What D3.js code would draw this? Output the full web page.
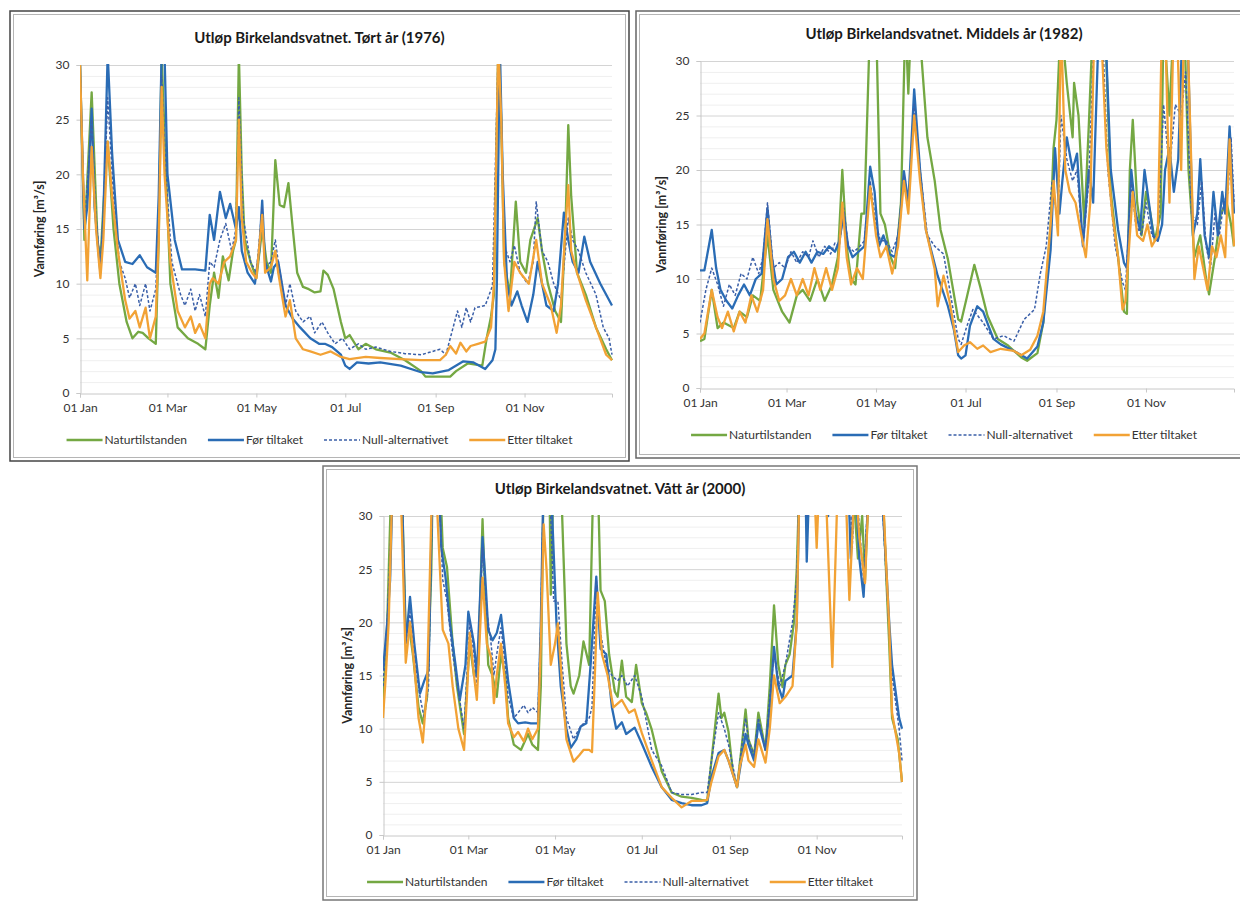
<!DOCTYPE html>
<html><head><meta charset="utf-8">
<script src="https://cdn.jsdelivr.net/npm/d3@7"></script>
<style>
body{margin:0;background:#fff}
text{font-family:Lato,"Open Sans",sans-serif}
</style>
</head><body>
<svg id="c" width="1240" height="902"></svg>
<script>
// ---------------- data ----------------
const titles = ["Utløp Birkelandsvatnet. Tørt år (1976)", "Utløp Birkelandsvatnet. Middels år (1982)", "Utløp Birkelandsvatnet. Vått år (2000)"];
const years = [1976, 1982, 2000];
const seriesNames = ["Naturtilstanden", "Før tiltaket", "Null-alternativet", "Etter tiltaket"];
const xTickLabels = ["01 Jan", "01 Mar", "01 May", "01 Jul", "01 Sep", "01 Nov"];
const yTicks = [0, 5, 10, 15, 20, 25, 30];
const yLabel = "Vannføring [m³/s]";

// [day of year, m3/s]
const p1Natur = [[0,30],[3,14],[8,27.5],[12,14],[14,12],[16,17],[19,23],[23,15],[27,10],[32,6.5],[36,5],[40,5.6],[43,5.5],[47,5],[52,4.5],[54,14],[56,31],[59,20],[62,10],[67,6],[74,5],[81,4.5],[86,4],[89,8],[92,11],[95,8.7],[98,12.5],[102,10.3],[105,13],[107,14],[109,31],[111,20],[113,14],[117,12],[121,10.5],[125,15],[128,12],[131,11],[134,21.3],[137,17.2],[140,17],[143,19.2],[146,15],[149,11],[153,9.7],[157,9.5],[161,9.2],[165,9.3],[167,11.2],[170,10.8],[174,9.5],[179,6.5],[182,5],[185,5.3],[191,4],[196,4.5],[203,4],[213,3.7],[223,3],[234,2],[237,1.5],[254,1.5],[258,2],[266,2.7],[276,2.5],[279,5],[282,7],[284,9],[287,32],[289,25],[291,12],[295,9],[299,17.5],[302,12],[306,11],[309,14],[314,16],[317,13],[321,10],[326,7.5],[330,6.5],[333,15],[335,24.5],[337,18],[341,11],[347,9],[354,6],[361,4],[365,3]];
const p1For = [[0,30],[3,15],[5,17],[8,26],[10,17],[14,11],[16,16],[19,31],[22,22],[26,14],[31,12],[36,11.8],[41,12.6],[46,11.5],[52,11],[54,18],[56,31],[58,31],[60,20],[65,14],[70,11.3],[79,11.3],[86,11.2],[89,16.3],[92,14],[96,18.4],[100,16],[103,17.3],[107,15],[109,17],[111,13],[115,11],[120,10],[123,13],[125,17.6],[127,12],[131,10.2],[133,11.5],[136,12],[141,8],[146,6.8],[151,6],[158,5],[164,4.5],[168,4.5],[173,4.2],[179,3.5],[182,2.5],[185,2.2],[190,2.8],[198,2.7],[206,2.8],[220,2.5],[234,1.9],[242,1.8],[253,2.1],[263,2.9],[270,2.8],[278,2.2],[283,3],[285,4],[286,10],[288,32],[290,20],[293,10],[296,8],[300,9.3],[303,8],[307,6.5],[311,9],[314,12],[317,10],[320,8],[325,7.5],[328,10],[332,16.5],[335,14],[338,12],[342,11],[346,14.3],[350,12],[357,10],[365,8]];
const p1Null = [[0,30],[3,15],[8,25],[11,16],[14,11.5],[16,16],[19,27],[23,18],[27,12],[31,10.5],[34,8.7],[38,10],[41,8],[45,10],[48,7.5],[52,9.5],[54,16],[56,29],[59,20],[63,12],[69,9],[72,8],[76,9.5],[79,7.5],[82,9],[86,7],[89,12],[92,11.5],[96,14],[100,15.5],[104,13],[107,15],[109,27],[112,16],[117,12],[121,11],[125,17],[127,11.5],[131,12],[134,14],[136,12],[141,8],[144,10],[148,7.5],[153,6.5],[158,7],[161,5.5],[166,6.5],[170,5.5],[175,4.5],[180,5],[185,4],[191,4.5],[196,4],[203,4.2],[213,3.8],[223,3.6],[234,3.5],[247,4],[251,3.5],[256,6],[259,7.5],[262,6],[265,7.8],[268,6.5],[271,7.8],[278,8],[283,9.8],[287,32],[289,25],[291,13.5],[295,12],[298,13.5],[302,11],[307,10],[311,12],[313,17.5],[317,13],[321,12],[325,10],[330,8.5],[333,13],[335,16],[338,14],[342,13],[347,11],[354,9],[359,6],[363,5],[365,3.5]];
const p1Etter = [[0,30],[2,20],[5,10.3],[8,22.5],[11,15],[14,10.5],[16,14],[19,23],[22,18],[26,13],[31,8.5],[34,6.8],[38,7.5],[41,6],[45,7.8],[48,5],[52,7],[54,14],[56,28],[58,20],[62,12],[67,7.5],[72,6],[76,7],[79,5.5],[82,6.3],[86,5],[89,10],[91,10.5],[95,10],[99,12],[103,12.5],[107,14],[109,25],[111,16],[114,12],[118,11],[121,10.5],[125,16.3],[127,11],[131,11.5],[134,13],[136,11],[141,7],[144,8.5],[148,5],[153,4],[158,3.8],[165,3.5],[172,3.8],[179,3.3],[185,3.1],[196,3.3],[206,3.2],[220,3.1],[234,3],[247,3],[251,3.5],[254,4.3],[258,3.6],[261,4.6],[265,3.8],[268,4.3],[273,4.5],[278,4.7],[282,6],[284,10],[287,32],[289,25],[291,12],[294,7.5],[298,12],[302,11],[308,10],[313,14],[317,10],[323,8],[327,5.5],[330,8],[333,15],[335,19],[337,13],[341,11],[347,8.5],[354,6],[361,3.5],[365,3]];

const p2Natur = [[0,4.3],[3,4.5],[8,9],[12,5.5],[16,6],[23,5.5],[27,7],[32,6.5],[36,8.5],[41,8],[46,14],[50,9],[56,7],[61,6],[66,8.5],[70,9],[75,8],[80,10],[85,8],[90,9.5],[94,12],[97,20],[100,13],[103,10],[106,9.5],[110,16],[112,16],[116,34],[120,34],[123,16],[126,15],[130,12],[133,11],[137,17],[140,34],[142,27],[144,34],[149,34],[155,23],[160,19],[164,14.5],[169,11.8],[176,6.3],[178,6.1],[182,8.4],[187,11.3],[191,9.3],[196,6.6],[203,4.5],[210,3.9],[219,2.8],[223,2.5],[230,3.2],[234,6],[239,15],[241,22],[243,24.6],[246,34],[250,28],[254,23],[255,28],[258,25],[262,15],[265,24],[268,34],[276,34],[280,18],[285,12],[289,7],[291,6.8],[293,20],[295,24.6],[298,17],[301,14],[304,18],[307,16],[310,13.5],[314,16],[316,34],[320,25],[323,34],[330,34],[333,20],[337,12],[341,14],[345,10],[347,8.6],[351,12],[355,16],[359,17],[362,15],[364,13]];
const p2For = [[0,10.8],[3,10.8],[6,13],[8,14.5],[11,11],[14,9],[18,8],[22,7.3],[26,8.5],[30,9.5],[34,8.5],[38,10],[42,10.5],[46,16.5],[49,12],[52,9.5],[56,10],[60,12],[64,12.5],[68,11.5],[72,12.5],[76,11.5],[80,12.5],[84,12.3],[88,13],[92,12.5],[95,13.5],[98,16],[101,13],[104,12],[108,12.5],[112,13],[116,20.3],[119,18],[122,13],[125,14],[129,12.3],[133,12],[136,15],[139,19.9],[142,17],[146,27.4],[150,20],[154,14.5],[162,10.3],[169,7.5],[173,5.4],[176,3],[178,2.7],[181,3],[184,5.7],[189,7.5],[193,7],[200,4.5],[205,4],[214,3.4],[223,2.7],[230,3.8],[234,6],[239,12.7],[242,22],[245,16],[247,19],[250,23],[254,20],[257,21.5],[261,13],[265,20],[268,17],[272,34],[276,34],[280,20],[285,14.5],[289,11.5],[291,11],[294,20],[297,16],[300,14.5],[303,20],[306,17],[309,14],[312,13.5],[315,15],[317,20],[320,22],[323,18],[326,21],[329,34],[332,34],[336,14],[339,16],[341,21],[344,14],[347,12],[350,18],[353,14],[356,18],[358,16],[361,24],[364,16]];
const p2Null = [[0,6],[4,9],[8,11],[12,9.5],[16,7.5],[20,9.5],[24,8.5],[28,10.5],[32,10],[36,12],[40,10.5],[43,12],[46,17],[50,11],[54,11.5],[58,11],[62,12.5],[66,11.5],[70,12.5],[74,12],[77,13.5],[81,12],[85,13],[89,12.3],[92,13.3],[95,13],[98,16.5],[101,13],[105,12.5],[109,13],[112,13.5],[116,19],[120,15],[123,13.5],[127,13.5],[131,12.5],[135,14],[139,19.5],[142,16.5],[146,26],[150,20],[155,14],[160,13],[166,12.3],[171,8.4],[176,4.5],[178,4],[182,5.7],[186,7.2],[193,6],[200,4.5],[207,4.8],[214,4.3],[221,6.3],[228,7.2],[232,10.5],[236,13],[240,19],[244,15],[246,25],[250,21],[254,19],[257,20],[261,13],[265,19],[269,34],[274,34],[278,20],[283,13],[288,9.7],[290,9],[294,19],[297,15],[301,14],[304,17],[308,14],[312,13.5],[316,26],[320,20],[324,26],[328,25],[331,29],[335,16],[339,15],[342,19],[345,13],[348,11],[351,16],[354,14],[357,17],[360,18],[362,23],[364,17]];
const p2Etter = [[0,4.5],[3,5],[8,9],[12,6.5],[15,5.5],[19,7],[23,5.2],[27,7],[31,6],[35,8.5],[39,7],[43,9],[46,15.5],[50,10],[54,8],[58,8.5],[62,10],[66,8.5],[70,10],[74,8.5],[78,11],[82,9],[86,11],[90,9],[94,11],[97,17],[100,12],[103,9.5],[107,11],[111,10],[116,18.5],[120,14],[123,12],[127,13],[131,10.5],[135,13],[139,19],[142,16],[146,25],[150,19],[154,14.5],[160,10.9],[162,7.5],[166,10.3],[170,8],[176,3.3],[180,3.9],[184,4.2],[189,3.6],[193,3.9],[198,3.3],[205,3.6],[214,3.4],[219,3],[225,3.5],[230,4.8],[234,7],[239,15],[241,19],[244,14],[246,34],[249,20],[252,18],[256,17],[260,14],[263,12],[266,17],[269,34],[273,34],[277,22],[281,16],[285,12],[288,7.2],[290,8],[293,14],[295,18],[298,14],[302,13.5],[305,15],[308,13],[312,14],[315,34],[317,34],[320,17],[323,34],[325,34],[328,20],[330,34],[332,34],[335,20],[337,10],[340,13],[343,11],[346,9],[349,13],[352,12],[355,14],[358,12],[361,22.8],[364,13]];

const p3Natur = [[0,12],[3,20],[6,34],[13,34],[16,19],[18,20],[21,17],[25,12],[28,10.5],[31,13],[34,25],[35,34],[40,34],[42,27],[45,25.2],[49,18],[52,14],[57,9.5],[59,14],[61,18],[64,15],[67,16],[70,29.7],[72,22],[74,16],[77,15],[80,13],[83,17],[86,15],[88,11],[92,8.5],[97,8],[102,9.5],[105,8.5],[109,8],[111,14],[113,34],[117,34],[118,22.6],[120,34],[125,34],[129,18],[132,14],[134,13.3],[138,15],[141,18.2],[145,16],[148,34],[151,34],[153,23],[156,22],[159,17],[163,13.5],[165,13],[168,16.4],[171,13],[175,12.5],[178,16],[182,12.4],[185,11.5],[189,9.9],[196,6],[203,4],[210,3.6],[217,3.5],[224,3.3],[228,3.2],[231,7],[236,13.3],[238,11],[240,11.5],[243,9.7],[246,6],[249,4.5],[252,8],[255,11.8],[257,9],[261,7.5],[264,11.5],[269,8],[272,14],[275,21.6],[278,16],[281,13.9],[283,16],[286,17],[289,20],[291,25],[293,34],[330,34],[334,26],[337,30],[339,24],[342,34],[351,34],[354,24],[356,18],[358,11],[362,9],[365,5]];
const p3For = [[0,15.5],[3,20],[5,24],[7,34],[13,34],[16,18],[19,22.4],[22,18],[26,13.3],[29,14.5],[32,15.5],[35,34],[39,34],[41,27],[44,24.2],[47,20],[51,16],[54,12.7],[58,16],[60,21],[64,18],[66,15],[70,28],[72,24],[74,19.3],[77,18.3],[80,19],[83,20.7],[86,17],[88,14.5],[92,11],[95,10.5],[100,10.6],[104,10.5],[109,10.5],[111,20],[113,34],[117,34],[119,30],[122,20],[125,14],[129,10],[132,8.2],[136,9],[139,10.2],[143,10.5],[146,16],[150,24.3],[153,17.5],[157,17],[161,12],[164,10],[168,10.6],[171,9.5],[177,10.1],[182,8.6],[189,6.4],[196,4.5],[203,3.3],[210,3],[217,2.8],[224,2.8],[228,3],[231,5.5],[236,7.7],[240,8],[243,7],[249,4.5],[255,9.5],[257,8.5],[261,7],[264,10.5],[269,8],[272,12],[275,17.7],[278,14],[281,12.8],[283,14.5],[288,15],[291,20],[293,34],[297,34],[298,25.7],[300,34],[310,34],[313,30],[317,34],[327,34],[329,26],[332,34],[335,26],[338,22.4],[342,34],[350,34],[354,25],[356,20],[358,16],[363,11],[365,10]];
const p3Null = [[0,14],[3,20],[6,30],[9,34],[13,34],[16,18],[19,21],[22,17],[26,13],[29,11],[32,14],[35,34],[39,34],[42,24],[45,22],[49,17],[53,13.5],[57,10],[59,15],[61,20],[64,17],[66,14],[70,27],[73,21],[76,18],[78,15],[80,17],[83,19.5],[86,16],[88,13],[92,11],[95,11.5],[99,12.2],[102,11.5],[105,12],[109,11.5],[111,20],[113,34],[117,34],[120,22],[123,22],[126,16],[129,11],[134,9],[138,10],[141,10.5],[145,11],[147,12],[150,24],[153,19],[157,16],[161,15],[165,14.5],[168,15],[172,14],[177,15],[182,13],[189,8],[196,6.5],[203,4],[210,3.8],[217,3.8],[224,4],[228,4],[231,7],[236,11.5],[240,10],[243,8.5],[249,4.5],[252,8],[255,11],[257,9],[261,7.5],[264,11],[269,8],[272,13],[275,17],[279,14],[283,16],[288,20],[291,24],[293,34],[297,34],[298,30],[303,34],[328,34],[330,27],[332,34],[338,24],[342,34],[350,34],[354,24],[356,19],[358,15],[363,10],[365,7]];
const p3Etter = [[0,11],[2,15],[4,20],[6,30],[9,34],[13,30],[16,16.2],[19,20],[22,16],[25,11],[28,8.7],[31,14],[34,30],[37,34],[39,28],[42,19.3],[46,18],[49,14],[53,10],[57,8],[59,13],[61,19],[64,15],[66,12.7],[70,24.2],[73,18],[76,16.7],[78,12.4],[80,15],[83,18],[86,14],[88,10.5],[92,9.2],[95,9.7],[99,8.8],[102,10],[105,9],[109,10],[111,18],[113,29.2],[115,25],[118,16],[121,18],[123,19.9],[126,14],[129,9],[134,6.9],[138,7.5],[141,8],[145,8],[147,7.8],[149,15],[151,22.8],[154,17],[158,15],[162,12],[168,12.7],[173,11.5],[177,11.8],[182,9.6],[189,7],[196,4.5],[203,3.5],[210,2.6],[217,3.2],[224,3.2],[228,3.3],[231,5],[236,7.4],[240,8],[243,7],[249,4.5],[251,6.5],[255,8.5],[257,7],[261,6.4],[264,9],[269,6.8],[272,10],[275,15],[279,12.4],[283,13],[288,14],[291,20],[293,34],[303,34],[305,27],[307,34],[311,34],[316,15.8],[320,34],[325,34],[328,22.1],[332,34],[335,28],[339,23.7],[342,34],[351,34],[354,25],[356,19.6],[358,11.5],[363,7.7],[365,5]];

const panelSeries = [
  [p1Natur, p1For, p1Null, p1Etter],
  [p2Natur, p2For, p2Null, p2Etter],
  [p3Natur, p3For, p3Null, p3Etter]
];

// ---------------- layout / style ----------------
const colors = ["#74a843", "#2a6cb5", "#3a5fa8", "#f2a235"];
const widths = [2.3, 2.3, 1.5, 2.3];
const dashes = [null, null, "3,2", null];
const layout = [
  {frame:[10,11,629,461], plot:[80,65,612,393], yLabX:40, frameColor:"#444"},
  {frame:[636,11,1252,458], plot:[700,61,1234,388], yLabX:662, frameColor:"#666"},
  {frame:[323,466,917,900], plot:[383,516,902,835], yLabX:348, frameColor:"#777"}
];

const svg = d3.select("#c");
svg.append("rect").attr("width",1240).attr("height",902).attr("fill","#fff");

layout.forEach((L, pi) => {
  const g = svg.append("g");
  const [fx0, fy0, fx1, fy1] = L.frame;
  const [px0, py0, px1, py1] = L.plot;
  // frame
  g.append("rect").attr("x", fx0).attr("y", fy0).attr("width", fx1 - fx0).attr("height", fy1 - fy0)
    .attr("fill", "none").attr("stroke", L.frameColor).attr("stroke-width", 1.5);
  g.append("rect").attr("x", fx0 + 3.5).attr("y", fy0 + 3.5).attr("width", fx1 - fx0 - 7).attr("height", fy1 - fy0 - 7)
    .attr("fill", "none").attr("stroke", "#b5b5b5").attr("stroke-width", 1);

  const year = years[pi];
  const start = new Date(year, 0, 1), end = new Date(year, 11, 31);
  const x = d3.scaleTime().domain([start, end]).range([px0, px1]);
  const y = d3.scaleLinear().domain([0, 30]).range([py1, py0]);
  const day = d => d3.timeDay.offset(start, d);

  // minor grid
  g.append("g").selectAll("line").data(d3.range(0, 31, 1).filter(v => v % 5 !== 0)).join("line")
    .attr("x1", px0).attr("x2", px1).attr("y1", d => y(d) + 0.5).attr("y2", d => y(d) + 0.5)
    .attr("stroke", "#efefef").attr("stroke-width", 1);
  // major grid
  g.append("g").selectAll("line").data(yTicks.slice(1)).join("line")
    .attr("x1", px0).attr("x2", px1).attr("y1", d => y(d) + 0.5).attr("y2", d => y(d) + 0.5)
    .attr("stroke", "#d4d4d4").attr("stroke-width", 1);

  // y axis
  const ya = g.append("g").attr("transform", `translate(${px0 + 0.5},0)`)
    .call(d3.axisLeft(y).tickValues(yTicks).tickSize(4).tickPadding(7));
  ya.select(".domain").attr("stroke", "#c8c8c8");
  ya.selectAll(".tick line").attr("stroke", "#c8c8c8");
  ya.selectAll("text").attr("fill", "#333").style("font-size", "12px").style("font-family", "Lato, sans-serif");

  // x axis
  const xTickDates = d3.timeMonth.every(2).range(start, end);
  const xa = g.append("g").attr("transform", `translate(0,${py1 + 0.5})`)
    .call(d3.axisBottom(x).tickValues(xTickDates).tickFormat((d, i) => xTickLabels[i]).tickSize(4).tickPadding(6));
  xa.select(".domain").attr("stroke", "#c8c8c8");
  xa.selectAll(".tick line").attr("stroke", "#c8c8c8");
  xa.selectAll("text").attr("fill", "#333").style("font-size", "12px").style("font-family", "Lato, sans-serif");

  // clip
  const cid = "clip" + pi;
  svg.append("clipPath").attr("id", cid).append("rect")
    .attr("x", px0).attr("y", py0 - 1).attr("width", px1 - px0 + 1).attr("height", py1 - py0 + 2);

  const line = d3.line().x(d => x(day(d[0]))).y(d => y(d[1]));
  const lg = g.append("g").attr("clip-path", `url(#${cid})`);
  panelSeries[pi].forEach((s, si) => {
    lg.append("path").datum(s).attr("d", line).attr("fill", "none")
      .attr("stroke", colors[si]).attr("stroke-width", widths[si])
      .attr("stroke-dasharray", dashes[si]).attr("stroke-linejoin", "round");
  });

  // title
  const cx = (fx0 + fx1) / 2;
  g.append("text").attr("x", cx).attr("y", py0 - 22).attr("text-anchor", "middle")
    .style("font-size", "15px").style("font-weight", "bold").attr("fill", "#1a1a1a").text(titles[pi]);

  // y label
  g.append("text").attr("transform", `translate(${L.yLabX},${(py0 + py1) / 2}) rotate(-90)`)
    .attr("text-anchor", "middle").attr("dy", "0.35em")
    .style("font-size", "12.5px").style("font-weight", "bold").attr("fill", "#262626").text(yLabel);

  // legend
  const leg = g.append("g");
  const ly = py1 + 47;
  let cur = 0;
  seriesNames.forEach((n, si) => {
    const it = leg.append("g");
    it.append("line").attr("x1", 0).attr("x2", 36).attr("y1", 0).attr("y2", 0)
      .attr("stroke", colors[si]).attr("stroke-width", widths[si]).attr("stroke-dasharray", dashes[si]);
    const t = it.append("text").attr("x", 38).attr("dy", "0.35em").style("font-size", "12px").attr("fill", "#333").text(n);
    const w = 38 + t.node().getComputedTextLength();
    it.attr("transform", `translate(${cur},${ly})`);
    cur += w + 21;
  });
  const total = cur - 21;
  leg.attr("transform", `translate(${cx - total / 2},0)`);
});
</script>
</body></html>
